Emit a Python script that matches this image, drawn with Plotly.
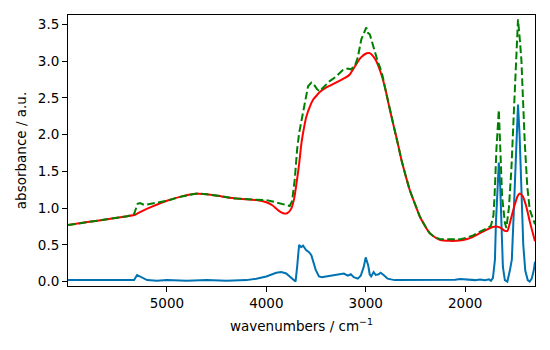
import plotly.graph_objects as go

wn_red = [5995, 5800, 5600, 5400, 5320, 5250, 5150, 5000, 4850, 4700, 4600, 4450, 4300, 4100, 4000, 3940, 3880, 3830, 3790, 3750, 3720, 3696, 3670, 3646, 3620, 3596, 3560, 3528, 3490, 3462, 3400, 3300, 3200, 3161, 3100, 3050, 2990, 2960, 2920, 2893, 2850, 2809, 2770, 2726, 2680, 2641, 2600, 2558, 2500, 2457, 2400, 2357, 2300, 2256, 2156, 2055, 1980, 1920, 1850, 1786, 1730, 1686, 1640, 1600, 1575, 1540, 1500, 1470, 1450, 1420, 1384, 1350, 1297]
abs_red = [0.77, 0.81, 0.85, 0.89, 0.91, 0.96, 1.02, 1.10, 1.16, 1.195, 1.19, 1.16, 1.13, 1.11, 1.08, 1.04, 0.97, 0.93, 0.93, 0.99, 1.13, 1.34, 1.6, 1.89, 2.1, 2.25, 2.39, 2.48, 2.54, 2.58, 2.64, 2.71, 2.78, 2.82, 2.95, 3.05, 3.11, 3.11, 3.06, 3.0, 2.85, 2.66, 2.42, 2.16, 1.9, 1.66, 1.45, 1.25, 1.04, 0.89, 0.75, 0.66, 0.6, 0.57, 0.555, 0.56, 0.58, 0.61, 0.66, 0.705, 0.74, 0.75, 0.73, 0.69, 0.69, 0.85, 1.05, 1.17, 1.2, 1.16, 1.02, 0.82, 0.55]

wn_green = [5995, 5800, 5600, 5400, 5330, 5310, 5295, 5270, 5240, 5200, 5100, 5000, 4850, 4700, 4600, 4450, 4300, 4100, 4000, 3948, 3880, 3824, 3780, 3764, 3740, 3714, 3690, 3670, 3645, 3623, 3600, 3580, 3547, 3520, 3490, 3462, 3430, 3400, 3362, 3300, 3250, 3231, 3180, 3150, 3111, 3080, 3044, 3020, 2994, 2975, 2960, 2940, 2910, 2880, 2860, 2830, 2809, 2770, 2726, 2680, 2641, 2600, 2558, 2500, 2457, 2400, 2357, 2300, 2256, 2156, 2055, 1980, 1920, 1850, 1786, 1740, 1715, 1704, 1685, 1661, 1645, 1628, 1600, 1585, 1560, 1535, 1501, 1480, 1468, 1450, 1434, 1400, 1375, 1350, 1320, 1297]
abs_green = [0.77, 0.81, 0.85, 0.89, 0.92, 0.99, 1.06, 1.07, 1.05, 1.05, 1.07, 1.10, 1.16, 1.2, 1.19, 1.16, 1.13, 1.115, 1.11, 1.095, 1.07, 1.06, 1.04, 1.03, 1.1, 1.39, 1.8, 2.02, 2.2, 2.34, 2.52, 2.66, 2.71, 2.68, 2.62, 2.59, 2.64, 2.68, 2.73, 2.79, 2.85, 2.88, 2.9, 2.89, 2.93, 3.05, 3.3, 3.38, 3.46, 3.38, 3.37, 3.28, 3.12, 3.0, 2.93, 2.8, 2.66, 2.42, 2.16, 1.9, 1.66, 1.45, 1.25, 1.04, 0.89, 0.75, 0.66, 0.6, 0.58, 0.575, 0.575, 0.6, 0.63, 0.68, 0.72, 0.76, 0.9, 1.16, 1.8, 2.34, 1.8, 1.16, 0.8, 0.73, 1.0, 1.52, 2.57, 3.3, 3.57, 3.3, 3.02, 1.89, 1.3, 0.98, 0.85, 0.78]

wn_blue = [5995, 5700, 5400, 5330, 5300, 5260, 5200, 5100, 5000, 4800, 4600, 4400, 4200, 4100, 4000, 3900, 3849, 3800, 3750, 3720, 3706, 3690, 3670, 3650, 3630, 3600, 3570, 3547, 3520, 3503, 3470, 3440, 3400, 3350, 3300, 3250, 3220, 3180, 3150, 3120, 3080, 3050, 3020, 3000, 2990, 2975, 2960, 2945, 2920, 2900, 2870, 2850, 2820, 2780, 2709, 2600, 2400, 2200, 2100, 2050, 2000, 1900, 1850, 1800, 1760, 1740, 1720, 1700, 1690, 1675, 1661, 1647, 1632, 1620, 1600, 1575, 1550, 1530, 1515, 1500, 1485, 1468, 1452, 1435, 1415, 1395, 1370, 1350, 1330, 1310, 1297]
abs_blue = [0.02, 0.02, 0.02, 0.02, 0.09, 0.06, 0.02, 0.01, 0.02, 0.01, 0.02, 0.01, 0.02, 0.04, 0.07, 0.12, 0.13, 0.11, 0.05, 0.01, 0.0, 0.2, 0.5, 0.47, 0.49, 0.43, 0.4, 0.36, 0.25, 0.16, 0.07, 0.06, 0.07, 0.08, 0.09, 0.1, 0.11, 0.08, 0.1, 0.06, 0.04, 0.08, 0.2, 0.33, 0.28, 0.22, 0.1, 0.07, 0.13, 0.09, 0.1, 0.12, 0.09, 0.04, 0.02, 0.02, 0.02, 0.02, 0.025, 0.035, 0.03, 0.02, 0.03, 0.02, 0.03, 0.01, 0.05, 0.3, 0.8, 1.3, 1.62, 1.3, 0.6, 0.2, 0.02, 0.0, 0.15, 0.3, 0.8, 1.3, 2.0, 2.41, 2.0, 1.2, 0.5, 0.15, 0.02, 0.0, 0.04, 0.15, 0.27]

x_ticks = [5000, 4000, 3000, 2000]
y_ticks = [0.0, 0.5, 1.0, 1.5, 2.0, 2.5, 3.0, 3.5]

fig = go.Figure()
fig.add_trace(go.Scatter(x=wn_blue, y=abs_blue, mode="lines",
                         line=dict(color="#0072B2", width=2)))
fig.add_trace(go.Scatter(x=wn_red, y=abs_red, mode="lines",
                         line=dict(color="#ff0000", width=2, shape="spline", smoothing=0.6)))
fig.add_trace(go.Scatter(x=wn_green, y=abs_green, mode="lines",
                         line=dict(color="#008000", width=2, dash="7.7px,3.3px")))

font = dict(family="DejaVu Sans", size=13.5, color="black")
axis_common = dict(showline=True, linecolor="black", linewidth=1, mirror=True,
                   ticks="outside", ticklen=5, tickcolor="black", tickwidth=1,
                   showgrid=False, zeroline=False, tickfont=font)

fig.update_layout(
    width=542, height=342,
    margin=dict(l=60, r=15, t=7, b=64),
    paper_bgcolor="white", plot_bgcolor="white",
    showlegend=False, font=font,
    xaxis=dict(range=[5995, 1297], tickvals=x_ticks,
               title=dict(text="wavenumbers / cm<sup>−1</sup>", font=font, standoff=11),
               **axis_common),
    yaxis=dict(range=[-0.06, 3.63], tickvals=y_ticks, tickformat=".1f",
               title=dict(text="absorbance / a.u.", font=font, standoff=8),
               **axis_common),
)

fig.write_html("out.html")
